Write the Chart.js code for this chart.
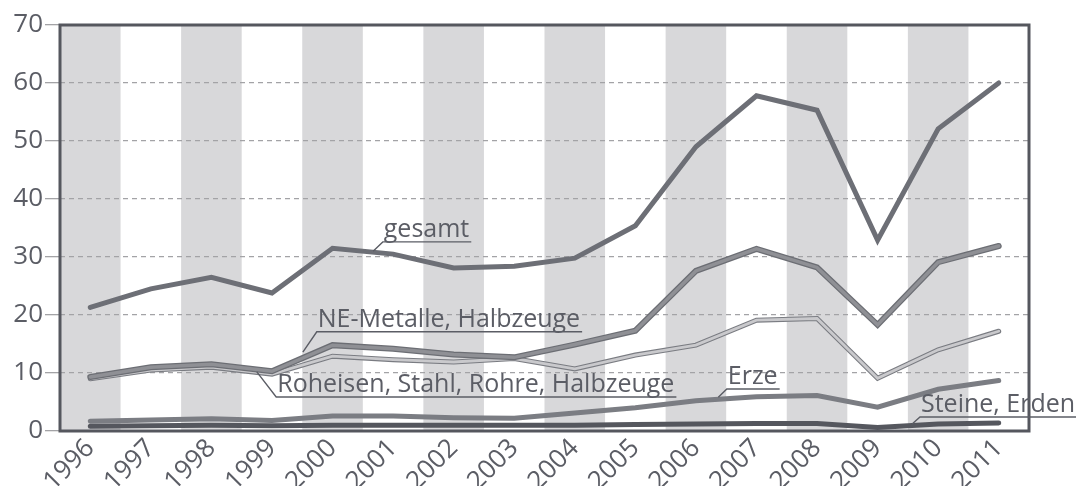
<!DOCTYPE html>
<html>
<head>
<meta charset="utf-8">
<script src="https://cdn.jsdelivr.net/npm/chart.js@4/dist/chart.umd.min.js"></script>
<style>
  html, body { margin: 0; padding: 0; background: #fff; }
  #wrap { width: 1076px; height: 486px; position: relative; }
</style>
</head>
<body>
<div id="wrap"><canvas id="c"></canvas></div>
<script>
// Exporte nach Warengruppen, 1996–2011
const years = ['1996','1997','1998','1999','2000','2001','2002','2003','2004','2005','2006','2007','2008','2009','2010','2011'];

const gesamt    = [21.3, 24.5, 26.5, 23.8, 31.5, 30.5, 28.1, 28.4, 29.8, 35.4, 49.0, 57.8, 55.3, 32.9, 52.1, 60.0];
const neMetalle = [9.3, 11.0, 11.5, 10.3, 14.8, 14.2, 13.2, 12.7, 14.9, 17.3, 27.6, 31.4, 28.2, 18.3, 29.1, 31.9];
const roheisen  = [9.0, 10.5, 11.0, 9.8, 12.9, 12.3, 11.9, 12.5, 10.7, 13.1, 14.8, 19.1, 19.4, 9.1, 14.0, 17.2];
const erze      = [1.7, 1.9, 2.1, 1.8, 2.6, 2.6, 2.3, 2.2, 3.1, 4.0, 5.2, 5.9, 6.1, 4.1, 7.2, 8.7];
const steine    = [0.8, 0.9, 1.0, 0.9, 1.0, 1.0, 1.0, 1.0, 1.0, 1.1, 1.2, 1.3, 1.3, 0.6, 1.2, 1.4];

const yTicks = [0, 10, 20, 30, 40, 50, 60, 70];

// annotation labels: underline start (x = category index, y = value) and leader end
const notes = [
  { text: 'gesamt',                           x: 4.83, y: 32.6, lx: 4.67, ly: 31.0 },
  { text: 'NE-Metalle, Halbzeuge',            x: 3.74, y: 17.1, lx: 3.51, ly: 13.6 },
  { text: 'Roheisen, Stahl, Rohre, Halbzeuge', x: 3.07, y: 5.86, lx: 2.75, ly: 10.2 },
  { text: 'Erze',                             x: 10.51, y: 7.24, lx: 10.37, ly: 5.8 },
  { text: 'Steine, Erden',                    x: 13.70, y: 2.41, lx: 13.57, ly: 1.2 },
];

const TEXT = '#5b5d65';
const STRIPE = '#d8d8da';
const GRID = '#a3a3a6';
const FRAME = '#55575e';
const FONT = '"Open Sans", sans-serif';

const line = (data, color, width, order) => ({
  data, borderColor: color, borderWidth: width, order,
  pointRadius: 0, tension: 0, fill: false,
  borderCapStyle: 'round', borderJoinStyle: 'miter',
});

const stripes = {
  id: 'stripes',
  beforeDraw(chart) {
    const { ctx, chartArea: a, scales: { x } } = chart;
    ctx.save();
    ctx.fillStyle = STRIPE;
    years.forEach((_, i) => {
      if (i % 2) return;
      const l = x.getPixelForValue(i - 0.5), r = x.getPixelForValue(i + 0.5);
      ctx.fillRect(l, a.top, r - l, a.bottom - a.top);
    });
    ctx.restore();
  },
};

const frame = {
  id: 'frame',
  afterDatasetsDraw(chart) {
    const { ctx, chartArea: a, scales: { x, y } } = chart;
    ctx.save();
    ctx.strokeStyle = FRAME;
    ctx.lineWidth = 3;
    ctx.strokeRect(a.left, a.top, a.right - a.left, a.bottom - a.top);

    ctx.font = '25px ' + FONT;
    ctx.fillStyle = TEXT;
    ctx.strokeStyle = TEXT;
    ctx.lineWidth = 1.4;
    ctx.textBaseline = 'alphabetic';
    notes.forEach(n => {
      const px = x.getPixelForValue(n.x), py = y.getPixelForValue(n.y);
      const lx = x.getPixelForValue(n.lx), ly = y.getPixelForValue(n.ly);
      const w = ctx.measureText(n.text).width;
      ctx.beginPath();
      ctx.moveTo(lx, ly);
      ctx.lineTo(px, py);
      ctx.lineTo(px + w + 3, py);
      ctx.stroke();
      ctx.fillText(n.text, px + 1, py - 5);
    });
    ctx.restore();
  },
};

new Chart(document.getElementById('c'), {
  type: 'line',
  data: {
    labels: years,
    datasets: [
      line(gesamt, '#6d6f76', 5, 1),
      line(neMetalle, '#8f9095', 3.5, 2),
      line(neMetalle, '#6c6e74', 6, 3),
      line(roheisen, '#c9c9cc', 2.8, 4),
      line(roheisen, '#7a7c82', 5, 5),
      line(erze, '#7b7d83', 5, 6),
      line(steine, '#55575e', 5, 7),
    ],
  },
  options: {
    responsive: true, maintainAspectRatio: false, animation: false,
    layout: { padding: { top: 25, right: 47, left: 0, bottom: 0 } },
    plugins: { legend: { display: false }, tooltip: { enabled: false } },
    scales: {
      x: {
        offset: true,
        grid: { display: false, drawTicks: false, tickLength: 0 },
        border: { display: false },
        ticks: { color: TEXT, font: { family: FONT, size: 26 }, maxRotation: 45, minRotation: 45, padding: 2, autoSkip: false },
        afterFit(s) { s.height = 55; },
      },
      y: {
        min: 0, max: 70,
        afterBuildTicks(s) { s.ticks = yTicks.map(v => ({ value: v })); },
        grid: {
          color: GRID, lineWidth: 1.3,
          tickLength: 15, tickColor: GRID, tickWidth: 1.3, tickBorderDash: [],
        },
        border: { display: false, dash: [5, 4] },
        ticks: { color: TEXT, font: { family: FONT, size: 26 }, padding: 2 },
        afterFit(s) { s.width = 60; },
      },
    },
  },
  plugins: [stripes, frame],
});
</script>
</body>
</html>
